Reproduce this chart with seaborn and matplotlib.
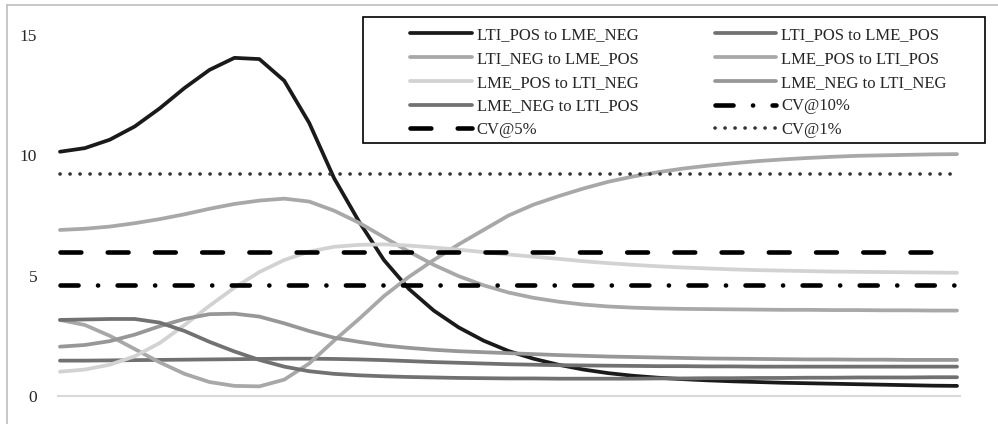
import numpy as np
import pandas as pd
import seaborn as sns
import matplotlib.pyplot as plt
from matplotlib.lines import Line2D
from matplotlib.patches import Rectangle

# =========================================================
# DATA
# =========================================================

periods = list(range(1, 38))

lti_pos_to_lme_neg = [10.15, 10.3, 10.65, 11.2, 11.95, 12.8, 13.55, 14.05, 14.0, 13.1,
                      11.35, 9.05, 7.25, 5.65, 4.45, 3.55, 2.85, 2.3, 1.87, 1.55,
                      1.3, 1.1, 0.95, 0.84, 0.76, 0.7, 0.65, 0.61, 0.58, 0.55,
                      0.53, 0.51, 0.49, 0.47, 0.45, 0.43, 0.42]
lti_pos_to_lme_pos = [1.47, 1.47, 1.48, 1.49, 1.5, 1.51, 1.52, 1.53, 1.54, 1.55,
                      1.55, 1.54, 1.52, 1.49, 1.45, 1.41, 1.38, 1.35, 1.32, 1.3,
                      1.28, 1.27, 1.26, 1.25, 1.24, 1.24, 1.23, 1.23, 1.22, 1.22,
                      1.22, 1.22, 1.22, 1.22, 1.22, 1.22, 1.22]
lti_neg_to_lme_pos = [3.16, 2.95, 2.5, 1.95, 1.4, 0.92, 0.58, 0.42, 0.4, 0.68,
                      1.35, 2.3, 3.2, 4.15, 4.95, 5.65, 6.3, 6.9, 7.5, 7.95,
                      8.3, 8.62, 8.9, 9.12, 9.3, 9.45, 9.57, 9.67, 9.76, 9.83,
                      9.89, 9.94, 9.98, 10.0, 10.02, 10.04, 10.05]
lme_pos_to_lti_pos = [6.9, 6.95, 7.04, 7.18, 7.35, 7.55, 7.78, 7.98, 8.12, 8.2,
                      8.08, 7.7, 7.2, 6.6, 6.0, 5.45, 4.98, 4.6, 4.3, 4.08,
                      3.92, 3.8, 3.72, 3.67, 3.64, 3.62, 3.61, 3.6, 3.59, 3.58,
                      3.58, 3.57, 3.57, 3.56, 3.56, 3.55, 3.55]
lme_pos_to_lti_neg = [1.01, 1.1, 1.3, 1.65, 2.2, 2.95, 3.75, 4.5, 5.15, 5.65,
                      6.0, 6.2, 6.28, 6.3, 6.25, 6.17, 6.08, 5.98, 5.88, 5.79,
                      5.7, 5.6, 5.52, 5.45, 5.39, 5.34, 5.3, 5.26, 5.23, 5.21,
                      5.19, 5.17, 5.16, 5.15, 5.14, 5.13, 5.12]
lme_neg_to_lti_neg = [2.05, 2.12, 2.28, 2.55, 2.9, 3.2, 3.4, 3.42, 3.3, 3.02,
                      2.7, 2.42, 2.25, 2.1, 2.0, 1.92, 1.86, 1.82, 1.78, 1.74,
                      1.7, 1.67, 1.64, 1.62, 1.6, 1.58, 1.56, 1.55, 1.54, 1.53,
                      1.52, 1.52, 1.51, 1.51, 1.5, 1.5, 1.5]
lme_neg_to_lti_pos = [3.16, 3.18, 3.2, 3.2, 3.05, 2.7, 2.25, 1.85, 1.5, 1.22,
                      1.03, 0.92, 0.86, 0.82, 0.79, 0.77, 0.75, 0.74, 0.73, 0.73,
                      0.72, 0.72, 0.72, 0.72, 0.73, 0.73, 0.74, 0.74, 0.75, 0.75,
                      0.76, 0.76, 0.77, 0.77, 0.77, 0.78, 0.78]

cv_labels = ["CV@10%", "CV@5%", "CV@1%"]
cv_values = [4.61, 5.99, 9.21]

series = {
    "LTI_POS to LME_NEG": lti_pos_to_lme_neg,
    "LTI_POS to LME_POS": lti_pos_to_lme_pos,
    "LTI_NEG to LME_POS": lti_neg_to_lme_pos,
    "LME_POS to LTI_POS": lme_pos_to_lti_pos,
    "LME_POS to LTI_NEG": lme_pos_to_lti_neg,
    "LME_NEG to LTI_NEG": lme_neg_to_lti_neg,
    "LME_NEG to LTI_POS": lme_neg_to_lti_pos,
}

colors = ["#1a1a1a", "#717171", "#a8a8a8", "#a8a8a8", "#d2d2d2", "#979797", "#717171"]

# =========================================================
# STYLE
# =========================================================

sns.set_theme(style="white")
plt.rcParams["font.family"] = ["Liberation Serif", "DejaVu Serif"]
plt.rcParams["lines.scale_dashes"] = False

fig = plt.figure(figsize=(9.98, 4.24), dpi=100)
ax = fig.add_axes([58 / 998, 28 / 424, 902 / 998, 361 / 424])

# =========================================================
# RESPONSE CURVES
# =========================================================

for (name, values), color in zip(series.items(), colors):
    sns.lineplot(
        x=periods,
        y=values,
        ax=ax,
        color=color,
        linewidth=2.7,
        label=name
    )
    ax.lines[-1].set_solid_capstyle("round")
    ax.lines[-1].set_solid_joinstyle("round")

# =========================================================
# CRITICAL VALUES
# =========================================================

cv_styles = {
    "CV@10%": dict(color="black", lw=3.3, ls=(0, (13.0, 14.0, 0.1, 14.0))),
    "CV@5%": dict(color="black", lw=3.3, ls=(0, (15.0, 19.0))),
    "CV@1%": dict(color="#333333", lw=2.6, ls=(0, (0.1, 7.1))),
}

for label, value in zip(cv_labels, cv_values):
    sns.lineplot(
        x=periods,
        y=[value] * len(periods),
        ax=ax,
        color=cv_styles[label]["color"],
        linewidth=cv_styles[label]["lw"],
        label=label
    )
    line = ax.lines[-1]
    line.set_linestyle(cv_styles[label]["ls"])
    line.set_dash_capstyle("round")

# =========================================================
# AXES
# =========================================================

ax.set_xlim(0.92, 37.12)
ax.set_ylim(0, 15)
ax.set_yticks([0, 5, 10, 15])
ax.set_yticklabels(["0", "5", "10", "15"], fontsize=12.5)
ax.set_xticks([])
ax.tick_params(axis="y", length=0, pad=15)
for side in ["left", "right", "top"]:
    ax.spines[side].set_visible(False)
ax.spines["bottom"].set_color("#d9d9d9")
ax.spines["bottom"].set_linewidth(1.5)
ax.set_xlabel("")
ax.set_ylabel("")

# =========================================================
# LEGEND
# =========================================================

handles, labels = ax.get_legend_handles_labels()
ax.get_legend().remove()
order = [0, 2, 4, 6, 8, 1, 3, 5, 7, 9]

fig.legend(
    [handles[i] for i in order],
    [labels[i] for i in order],
    ncol=2,
    loc="upper left",
    bbox_to_anchor=(410 / 998, 1 - 27 / 424),
    frameon=False,
    fontsize=12,
    handlelength=3.7,
    handletextpad=0.3,
    labelspacing=0.47,
    columnspacing=4.57,
    borderaxespad=0,
    borderpad=0
)

fig.patches.append(Rectangle(
    (363 / 998, 1 - 143 / 424), 622 / 998, 126 / 424,
    transform=fig.transFigure, fill=False, edgecolor="black", linewidth=1.2
))

# figure border (top and left only visible)
fig.add_artist(Line2D([7 / 998, 7 / 998], [0, 1 - 5 / 424], transform=fig.transFigure,
                      color="#bdbdbd", linewidth=1.2))
fig.add_artist(Line2D([7 / 998, 1], [1 - 5 / 424, 1 - 5 / 424], transform=fig.transFigure,
                      color="#bdbdbd", linewidth=1.2))

plt.savefig("out.png", dpi=100)
plt.close()
